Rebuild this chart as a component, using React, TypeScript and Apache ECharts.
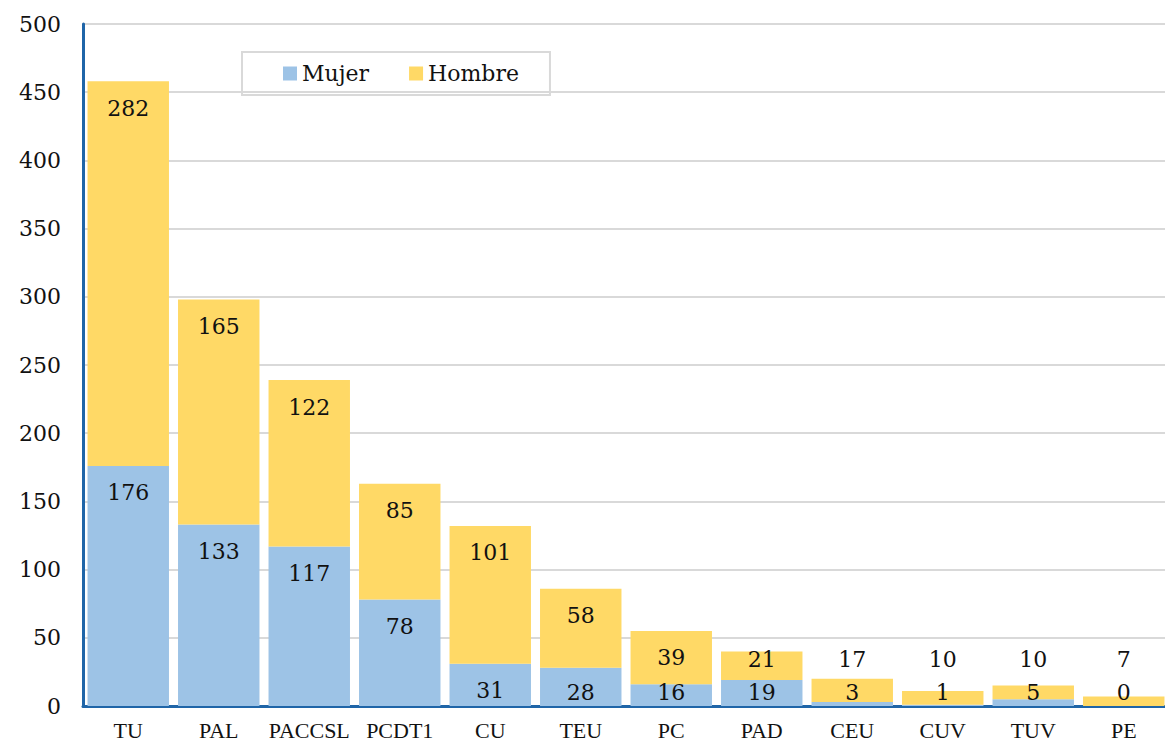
import React, { useEffect, useRef } from "react";
import * as echarts from "echarts";

const categories = ["TU", "PAL", "PACCSL", "PCDT1", "CU", "TEU", "PC", "PAD", "CEU", "CUV", "TUV", "PE"];
const mujer = [176, 133, 117, 78, 31, 28, 16, 19, 3, 1, 5, 0];
const hombre = [282, 165, 122, 85, 101, 58, 39, 21, 17, 10, 10, 7];
const yTicks = { min: 0, max: 500, interval: 50 };

const SERIF = "'DejaVu Serif', serif";

export default function App() {
  const ref = useRef<HTMLDivElement>(null);
  useEffect(() => {
    if (!ref.current) return;
    const chart = echarts.init(ref.current, undefined, { renderer: "svg" });
    const labelStyle = {
      show: true,
      color: "#111",
      fontFamily: SERIF,
      fontSize: 22,
    };
    chart.setOption({
      animation: false,
      backgroundColor: "#fff",
      grid: { left: 83, right: 1, top: 24, bottom: 36, containLabel: false },
      legend: {
        left: 242,
        top: 52,
        padding: [10, 31, 10, 41],
        borderColor: "#d9d9d9",
        borderWidth: 2,
        icon: "rect",
        itemWidth: 14,
        itemHeight: 14,
        itemGap: 40,
        textStyle: { fontFamily: SERIF, fontSize: 22, color: "#111", lineHeight: 23 },
        data: ["Mujer", "Hombre"],
      },
      xAxis: {
        type: "category",
        data: categories,
        axisLine: { show: true, lineStyle: { color: "#1f65a8", width: 3 } },
        axisTick: { show: false },
        axisLabel: {
          fontFamily: "'Liberation Serif', serif",
          fontSize: 22,
          color: "#111",
          margin: 13,
          interval: 0,
        },
      },
      yAxis: {
        type: "value",
        min: yTicks.min,
        max: yTicks.max,
        interval: yTicks.interval,
        axisLine: { show: true, lineStyle: { color: "#1f65a8", width: 3 } },
        axisTick: { show: false },
        splitLine: { lineStyle: { color: "#d9d9d9", width: 2 } },
        axisLabel: { fontFamily: SERIF, fontSize: 22, color: "#111", margin: 22 },
      },
      series: [
        {
          name: "Mujer",
          type: "bar",
          stack: "total",
          data: mujer,
          barCategoryGap: "10%",
          itemStyle: { color: "#9dc3e6" },
          label: { ...labelStyle, position: "insideTop" },
          labelLayout: (p: any) => {
            const base = chart.convertToPixel({ yAxisIndex: 0 }, 0) as number;
            const cy = Math.min(p.rect.y + 27, base - 14);
            return { x: p.rect.x + p.rect.width / 2, y: cy, align: "center", verticalAlign: "middle" };
          },
          z: 2,
        },
        {
          name: "Hombre",
          type: "bar",
          stack: "total",
          data: hombre,
          barCategoryGap: "10%",
          itemStyle: { color: "#ffd966" },
          label: { ...labelStyle, position: "insideTop" },
          labelLayout: (p: any) => {
            const base = chart.convertToPixel({ yAxisIndex: 0 }, 0) as number;
            const cy = Math.min(p.rect.y + 27, base - 47);
            return { x: p.rect.x + p.rect.width / 2, y: cy, align: "center", verticalAlign: "middle" };
          },
          z: 2,
        },
      ],
    });
    return () => chart.dispose();
  }, []);
  return (
    <div
      style={{ position: "absolute", left: 0, top: 0, width: 1165, height: 742, overflow: "hidden", background: "#fff" }}
    >
      <div ref={ref} style={{ width: 1170, height: 742 }} />
    </div>
  );
}
